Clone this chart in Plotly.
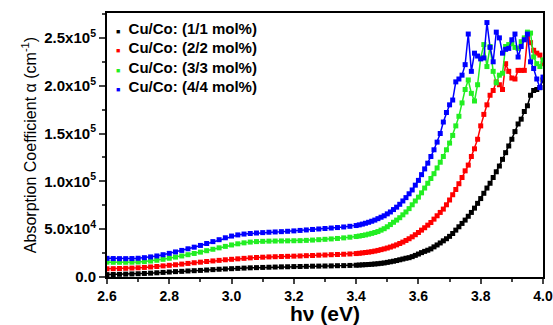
import plotly.graph_objects as go

energy = [2.60, 2.62, 2.64, 2.66, 2.68, 2.70, 2.72, 2.74, 2.76, 2.78,
          2.80, 2.82, 2.84, 2.86, 2.88, 2.90, 2.92, 2.94, 2.96, 2.98,
          3.00, 3.02, 3.04, 3.06, 3.08, 3.10, 3.12, 3.14, 3.16, 3.18,
          3.20, 3.22, 3.24, 3.26, 3.28, 3.30, 3.32, 3.34, 3.36, 3.38,
          3.40, 3.41, 3.42, 3.43, 3.44, 3.45, 3.46, 3.47, 3.48, 3.49,
          3.50, 3.51, 3.52, 3.53, 3.54, 3.55, 3.56, 3.57, 3.58, 3.59,
          3.60, 3.61, 3.62, 3.63, 3.64, 3.65, 3.66, 3.67, 3.68, 3.69,
          3.70, 3.71, 3.72, 3.73, 3.74, 3.75, 3.76, 3.77, 3.78, 3.79,
          3.80, 3.81, 3.82, 3.83, 3.84, 3.85, 3.86, 3.87, 3.88, 3.89,
          3.90, 3.91, 3.92, 3.93, 3.94, 3.95, 3.96, 3.97, 3.98, 3.99, 4.00]

# values in units of 1e3 cm^-1
cuco_1 = [2.5, 2.6, 2.8, 3.0, 3.2, 3.4, 3.7, 4.0, 4.4, 4.8,
          5.2, 5.6, 5.9, 6.3, 6.6, 6.9, 7.3, 7.7, 8.1, 8.4,
          8.7, 9.0, 9.3, 9.6, 9.8, 10.0, 10.2, 10.4, 10.6, 10.7,
          10.9, 11.0, 11.1, 11.3, 11.4, 11.5, 11.6, 11.8, 11.9, 12.1,
          12.3, 12.5, 12.7, 12.9, 13.1, 13.3, 13.6, 13.9, 14.3, 14.7,
          15.3, 15.9, 16.5, 17.2, 18.0, 18.8, 19.6, 20.2, 21.3, 22.6,
          24.0, 25.5, 26.8, 28.0, 29.4, 31.5, 33.5, 35.6, 37.8, 40.0,
          42.5, 45.5, 49.0, 52.5, 56.0, 59.5, 63.5, 67.5, 72.0, 77.0,
          82.0, 87.5, 93.0, 98.0, 104, 110, 116, 123, 130, 137,
          144, 152, 160, 165, 173, 179, 190, 195, 196, 198, 206]

cuco_2 = [8.6, 8.7, 8.9, 9.1, 9.3, 9.6, 10.0, 10.5, 11.0, 11.6,
          12.2, 12.8, 13.5, 14.2, 14.9, 15.5, 16.2, 16.8, 17.4, 18.0,
          18.5, 19.0, 19.5, 20.0, 20.4, 20.7, 21.0, 21.2, 21.4, 21.6,
          21.8, 22.0, 22.3, 22.5, 22.8, 23.0, 23.3, 23.5, 23.8, 24.1,
          24.5, 24.8, 25.2, 25.6, 26.0, 26.5, 27.1, 27.8, 28.6, 29.4,
          30.3, 31.3, 32.4, 33.6, 35.0, 36.5, 38.2, 40.0, 42.0, 44.2,
          46.5, 49.0, 51.5, 54.2, 57.0, 60.5, 64.0, 67.5, 71.0, 75.5,
          80.5, 86.0, 91.5, 97.5, 104, 111, 117, 126, 134, 144,
          158, 170, 180, 190, 195, 204, 201, 196, 223, 215,
          208, 207, 216, 216, 216, 250, 245, 237, 234, 232, 223]

cuco_3 = [15.5, 15.4, 15.4, 15.4, 15.5, 15.7, 16.1, 16.7, 17.5, 18.5,
          19.6, 20.8, 22.0, 23.3, 24.6, 26.0, 27.5, 29.0, 30.5, 32.0,
          33.5, 34.7, 35.7, 36.5, 37.0, 37.3, 37.5, 37.6, 37.7, 37.8,
          37.9, 38.0, 38.3, 38.6, 39.0, 39.4, 39.8, 40.3, 40.9, 41.6,
          42.3, 42.8, 43.4, 44.0, 44.8, 45.6, 46.5, 47.5, 49.0, 50.5,
          52.5, 54.8, 57.2, 59.5, 62.0, 65.0, 68.0, 71.5, 75.5, 79.5,
          83.5, 88.0, 93.0, 98.0, 103, 108, 114, 120, 126, 133,
          140, 148, 158, 168, 182, 196, 206, 192, 184, 201,
          229, 243, 220, 241, 215, 203, 211, 213, 241, 243,
          244, 240, 239, 246, 250, 256, 255, 230, 223, 220, 227]

cuco_4 = [19.5, 19.3, 19.2, 19.2, 19.3, 19.6, 20.2, 21.0, 22.0, 23.3,
          24.7, 26.2, 27.8, 29.5, 31.2, 33.0, 35.0, 37.0, 39.0, 41.0,
          42.8, 44.0, 44.9, 45.5, 46.0, 46.4, 46.8, 47.1, 47.4, 47.8,
          48.2, 48.7, 49.2, 49.7, 50.2, 50.7, 51.2, 51.7, 52.3, 53.0,
          53.8, 54.5, 55.3, 56.2, 57.2, 58.3, 59.5, 61.0, 62.5, 64.0,
          66.0, 68.0, 70.5, 73.0, 76.0, 79.5, 83.0, 87.0, 91.0, 96.0,
          101, 107, 113, 119, 126, 133, 141, 150, 162, 172,
          180, 185, 204, 207, 211, 222, 254, 215, 234, 231,
          228, 229, 266, 240, 225, 256, 250, 234, 238, 239,
          248, 254, 230, 241, 248, 254, 225, 218, 207, 198, 209]

series_names = ["Cu/Co: (1/1 mol%)", "Cu/Co: (2/2 mol%)",
                "Cu/Co: (3/3 mol%)", "Cu/Co: (4/4 mol%)"]
series_values = [cuco_1, cuco_2, cuco_3, cuco_4]
series_colors = ["#000000", "#ff0000", "#22ee22", "#0000ff"]

y_tickvals = [0, 50000, 100000, 150000, 200000, 250000]
y_ticktext = ["0.0", "5.0x10<sup>4</sup>", "1.0x10<sup>5</sup>",
              "1.5x10<sup>5</sup>", "2.0x10<sup>5</sup>", "2.5x10<sup>5</sup>"]

fig = go.Figure()
for name, vals, col in zip(series_names, series_values, series_colors):
    fig.add_trace(go.Scatter(
        x=energy, y=[v * 1000 for v in vals], mode="lines+markers",
        line=dict(color=col, width=1.5),
        marker=dict(symbol="square", size=5, color=col),
        showlegend=False, name=name))

# legend drawn as text entries (square glyph + label)
legend_y = [0.943, 0.869, 0.795, 0.722]
for name, col, ly in zip(series_names, series_colors, legend_y):
    fig.add_annotation(
        xref="paper", yref="paper", x=0.015, y=ly, xanchor="left", yanchor="middle",
        showarrow=False,
        text=f"<span style='font-size:7px;color:{col}'>\u25a0</span>  {name}",
        font=dict(size=15, weight="bold", color="black",
                  family="Arial, Liberation Sans, sans-serif"))

fig.update_layout(
    width=553, height=325,
    margin=dict(l=107, r=10, t=13, b=48),
    paper_bgcolor="white", plot_bgcolor="white",
    font=dict(family="Arial, Liberation Sans, sans-serif", color="black"),
    showlegend=False,
    xaxis=dict(range=[2.6, 4.0], tickmode="linear", tick0=2.6, dtick=0.2,
               tickformat=".1f", ticks="outside", ticklen=5, tickwidth=2,
               showline=True, linewidth=2, linecolor="black", mirror=True,
               showgrid=False, zeroline=False, ticklabeloverflow="allow",
               automargin=False,
               tickfont=dict(size=14, weight="bold"),
               minor=dict(tickmode="linear", tick0=2.6, dtick=0.1, ticklen=3,
                          tickwidth=2, ticks="outside", showgrid=False),
               title=dict(text="h\u03bd (eV)", standoff=3,
                          font=dict(size=21, weight="bold"))),
    yaxis=dict(range=[0, 276000], tickmode="array", tickvals=y_tickvals,
               ticktext=y_ticktext, ticks="outside", ticklen=6, tickwidth=2,
               showline=True, linewidth=2, linecolor="black", mirror=True,
               showgrid=False, zeroline=False, automargin=False,
               tickfont=dict(size=15, weight="bold"),
               minor=dict(tickmode="linear", tick0=0, dtick=25000, ticklen=3,
                          tickwidth=2, ticks="outside", showgrid=False),
               title=dict(text="Absorption Coefficient \u03b1 (cm<sup>-1</sup>)",
                          standoff=4, font=dict(size=16))),
)

fig.write_html("out.html")
